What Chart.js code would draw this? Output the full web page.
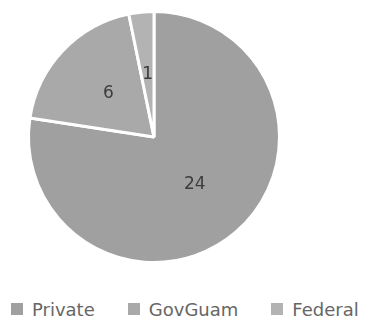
<!DOCTYPE html>
<html>
<head>
<meta charset="utf-8">
<script src="https://cdn.jsdelivr.net/npm/chart.js@4.4.1/dist/chart.umd.min.js"></script>
<style>
    html, body { margin: 0; padding: 0; background: #fff; }
    #wrap { position: relative; width: 365px; height: 320px; overflow: hidden; }
    #box { position: absolute; left: 0; top: 0; width: 365px; height: 290px; }
    /* legenda HTML mein, chart ke neeche */
    #legend {
        position: absolute; left: 11px; top: 298px; height: 22px;
        display: flex; align-items: center;
        font-family: 'DejaVu Sans', sans-serif; font-size: 18px; color: #666;
    }
    .item { display: flex; align-items: center; margin-right: 33px; }
    .swatch { width: 12px; height: 12px; margin-right: 9px; }
</style>
</head>
<body>
<div id="wrap">
    <div id="box"><canvas id="sectorChart"></canvas></div>
    <div id="legend"></div>
</div>
<script>
const categories = ['Private', 'GovGuam', 'Federal'];
const counts = [24, 6, 1];
const sliceColors = ['#a0a0a0', '#a9a9a9', '#b3b3b3'];

// value labels inside each slice
const sliceLabels = {
    id: 'sliceLabels',
    afterDatasetsDraw(chart) {
        const ctx = chart.ctx;
        const meta = chart.getDatasetMeta(0);
        ctx.save();
        ctx.font = '17px "DejaVu Sans", sans-serif';
        ctx.fillStyle = '#3c3c3c';
        ctx.textAlign = 'center';
        ctx.textBaseline = 'middle';
        meta.data.forEach((arc, i) => {
            const p = arc.tooltipPosition();
            ctx.fillText(String(counts[i]), p.x, p.y);
        });
        ctx.restore();
    }
};

new Chart(document.getElementById('sectorChart'), {
    type: 'pie',
    data: {
        labels: categories,
        datasets: [{
            data: counts,
            backgroundColor: sliceColors,
            borderColor: '#ffffff',
            borderWidth: 3
        }]
    },
    options: {
        responsive: true,
        maintainAspectRatio: false,
        animation: false,
        layout: { padding: { left: 27, right: 84, top: 10, bottom: 26 } },
        plugins: {
            legend: { display: false },
            tooltip: { enabled: false }
        }
    },
    plugins: [sliceLabels]
});

const legendEl = document.getElementById('legend');
categories.forEach((name, i) => {
    const item = document.createElement('div');
    item.className = 'item';
    const sw = document.createElement('span');
    sw.className = 'swatch';
    sw.style.background = sliceColors[i];
    const txt = document.createElement('span');
    txt.textContent = name;
    item.appendChild(sw);
    item.appendChild(txt);
    legendEl.appendChild(item);
});
</script>
</body>
</html>
